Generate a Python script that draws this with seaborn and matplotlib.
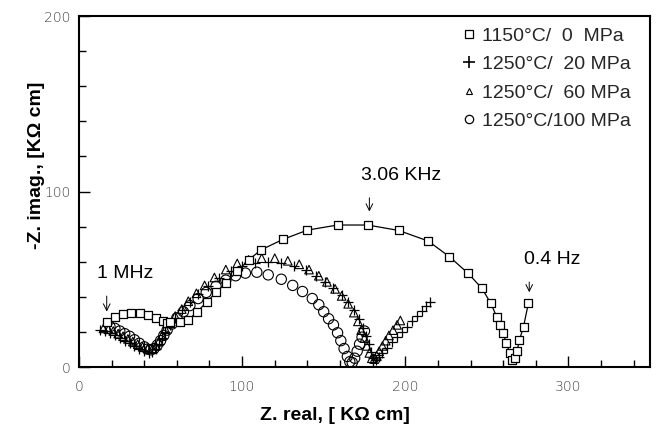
import matplotlib
matplotlib.use("Agg")
import matplotlib.pyplot as plt
from matplotlib.ticker import MultipleLocator
from matplotlib.lines import Line2D
import seaborn as sns
import pandas as pd

# ---- data ----
s1_x = [17, 22, 27, 32, 37.5, 42.5, 47.5, 51.5, 54, 56, 62, 67, 72.5, 78.5, 84, 90, 97, 104,
        111.5, 125, 140, 158.5, 177, 196, 214, 227, 238.5, 247, 252.5, 256, 258, 260, 262,
        264, 265.5, 267, 268.5, 270, 272.5, 275.5]
s1_y = [25.8, 28.3, 30.2, 30.9, 30.6, 29.6, 27.7, 26, 25.3, 25.8, 25.8, 26.8, 31.5, 37.2, 42.5,
        48, 54.5, 61, 66.7, 72.7, 78, 80.9, 80.9, 77.8, 71.8, 62.9, 53.4, 44.8, 36.2, 28.7,
        23.9, 19.1, 13.6, 8, 4, 5, 9, 15.4, 23, 36.5]

s2_x = [13, 16, 19, 22, 25, 28, 31, 34, 37, 40, 43, 45, 47, 49, 51, 53, 56, 59, 63, 68, 73,
        79, 86, 93, 100, 108, 116, 124, 132, 139, 145, 151, 156, 161, 165, 168.5, 171.5, 174,
        176, 177.5, 179, 180.5, 182, 184, 186, 189, 192, 195, 198, 201, 204, 207, 210, 213, 215]
s2_y = [21, 20.5, 19.5, 18, 16.5, 15, 13.5, 12, 10.5, 9, 8, 8.5, 10, 13, 16.5, 20, 24, 28,
        32.5, 37, 41.5, 46, 50.5, 54.5, 57.5, 59.5, 60, 59.5, 57.5, 55, 52, 48.5, 45, 41, 37,
        32.5, 27.5, 22.5, 17.5, 13, 8.5, 5, 4, 5.5, 8, 11, 14, 17, 20, 23, 26, 29, 32, 35, 37]

s3_x = [15, 18, 21, 24, 27, 30, 33, 36, 39, 42, 45, 47, 49, 51, 53, 56, 59, 63, 67, 72, 77,
        83, 90, 97, 104, 112, 120, 128, 135, 141, 147, 152, 157, 161, 165, 168.5, 171, 173,
        175, 176.5, 178, 179.5, 181, 182.5, 184, 186, 188, 190, 192.5, 195, 197]
s3_y = [22, 21.5, 20.5, 19, 17.5, 16, 14.5, 13, 11.5, 10.5, 10.5, 12, 14.5, 18, 21.5, 25, 29,
        33, 37.5, 42, 46.5, 51, 55.5, 59, 61, 62, 62, 60.5, 58.5, 55.5, 52, 48.5, 44.5, 40.5,
        36, 31, 26, 21, 16.5, 12, 8, 5, 4.5, 6.5, 9, 12, 15, 18, 21, 24, 26.5]

s4_x = [19, 22, 25, 28, 31, 34, 37, 40, 42, 44, 46, 48, 50, 52, 54, 57, 60, 64, 68, 73, 78,
        84, 90, 96, 102, 109, 116, 124, 131, 137, 143, 147, 150, 153, 156, 158.5, 160.5, 162.5,
        164.5, 166, 167.5, 169, 170.5, 172, 173.5, 175]
s4_y = [23, 22, 20.5, 19, 17.5, 15.5, 13.5, 11.5, 10.2, 9.8, 10.5, 12.5, 15, 18, 21, 24.5, 28,
        31.5, 35, 39, 42.5, 46, 49.5, 52, 53.5, 54, 52.5, 50, 46.5, 43, 39, 35.5, 31.5, 27.5,
        24, 19.5, 15, 10.5, 6, 3, 2.5, 5, 9, 13, 17, 20.5]

labels = ["1150\u00b0C/  0  MPa", "1250\u00b0C/  20 MPa", "1250\u00b0C/  60 MPa", "1250\u00b0C/100 MPa"]

x_ticks = [0, 100, 200, 300]
y_ticks = [0, 100, 200]
x_label = "Z. real, [ K\u03a9 cm]"
y_label = "-Z. imag., [K\u03a9 cm]"

ann_text = ["1 MHz", "3.06 KHz", "0.4 Hz"]
ann_pt = [(17, 30), (178, 87), (276, 41)]

# ---- tables ----
df1 = pd.DataFrame({"x": s1_x, "y": s1_y})
df2 = pd.DataFrame({"x": s2_x, "y": s2_y})
df3 = pd.DataFrame({"x": s3_x, "y": s3_y})
df4 = pd.DataFrame({"x": s4_x, "y": s4_y})

sns.set_theme(style="ticks")
plt.rcParams["font.family"] = ["Liberation Sans", "DejaVu Sans"]

fig = plt.figure(figsize=(6.61, 4.41), dpi=100)
ax = fig.add_axes([0.1195, 0.1678, 0.8638, 0.7959])

# 1150 C line + squares
sns.lineplot(data=df1, x="x", y="y", sort=False, estimator=None, ax=ax,
             color="black", linewidth=0.9, zorder=2)
sns.scatterplot(data=df2, x="x", y="y", marker="+", s=45, color="black",
                linewidth=0.9, ax=ax, zorder=3)
sns.scatterplot(data=df3, x="x", y="y", marker="^", s=38, facecolor="none",
                edgecolor="black", linewidth=0.8, ax=ax, zorder=3)
sns.scatterplot(data=df4, x="x", y="y", marker="o", s=55, facecolor="none",
                edgecolor="black", linewidth=0.8, ax=ax, zorder=3)
sns.scatterplot(data=df1, x="x", y="y", marker="s", s=38, facecolor="white",
                edgecolor="black", linewidth=0.9, ax=ax, zorder=4)

ax.set_xlim(0, 350)
ax.set_ylim(0, 200)
ax.set_xticks(x_ticks)
ax.set_yticks(y_ticks)
ax.xaxis.set_minor_locator(MultipleLocator(20))
ax.yaxis.set_minor_locator(MultipleLocator(20))
ax.tick_params(which="major", direction="in", length=8, width=1.0, color="black",
               labelsize=10, labelcolor="#444444", pad=9)
ax.tick_params(which="minor", direction="in", length=5, width=1.0, color="black")
for lab in ax.get_xticklabels() + ax.get_yticklabels():
    lab.set_family(["Liberation Sans Narrow", "DejaVu Sans"])
    lab.set_fontweight("light")
ax.tick_params(axis="y", pad=6)

for sp in ax.spines.values():
    sp.set_visible(True)
    sp.set_color("black")
    sp.set_linewidth(1.5)

ax.set_xlabel(x_label, fontsize=14, fontweight="bold", color="black")
ax.set_ylabel(y_label, fontsize=14, fontweight="bold", color="black")
ax.xaxis.set_label_coords((335 - 79) / 571, -0.115)
ax.yaxis.set_label_coords(-0.06, (367 - 165) / 351)

# annotations
txt_pos = [(11, 53), (173, 109), (273, 61)]
for t, p, tp in zip(ann_text, ann_pt, txt_pos):
    ax.annotate("", xy=p, xytext=(p[0], tp[1] - 11),
                arrowprops=dict(arrowstyle="->", color="black", lw=0.7))
    ax.text(tp[0], tp[1], t, fontsize=14, ha="left", va="center", color="black")

# legend
handles = [
    Line2D([], [], marker="s", linestyle="none", markerfacecolor="white",
           markeredgecolor="black", markersize=6, markeredgewidth=0.9),
    Line2D([], [], marker="+", linestyle="none", color="black", markersize=8,
           markeredgewidth=1.2),
    Line2D([], [], marker="^", linestyle="none", markerfacecolor="none",
           markeredgecolor="black", markersize=5, markeredgewidth=0.8),
    Line2D([], [], marker="o", linestyle="none", markerfacecolor="none",
           markeredgecolor="black", markersize=6, markeredgewidth=0.9),
]
leg = ax.legend(handles, labels, loc="upper left", bbox_to_anchor=(0.655, 0.99),
                frameon=False, fontsize=14, handlelength=0.8, handletextpad=0.3,
                labelspacing=0.55, borderaxespad=0)

fig.savefig("out.png", dpi=100)
